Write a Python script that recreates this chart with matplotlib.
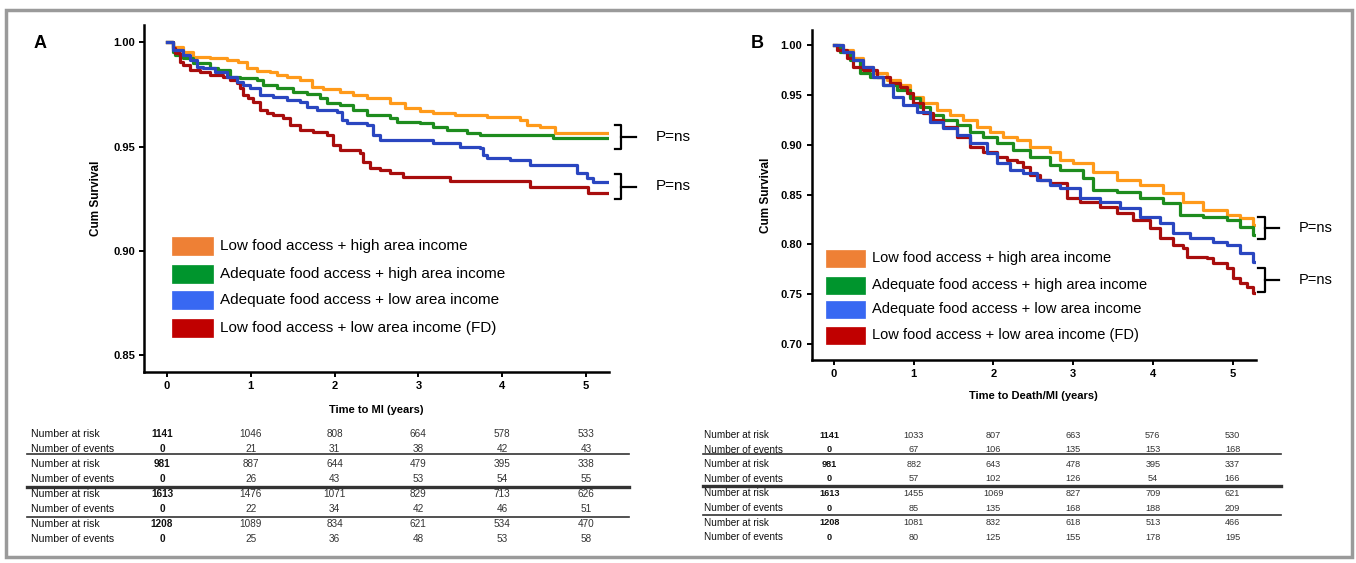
import matplotlib
matplotlib.use('Agg')
import matplotlib.pyplot as plt
from matplotlib.patches import Rectangle
from matplotlib.lines import Line2D

plt.rcParams['font.family'] = ['Liberation Sans', 'DejaVu Sans']

# ---------------- data ----------------
GROUP_LABELS = ['Low food access + high area income',
                'Adequate food access + high area income',
                'Adequate food access + low area income',
                'Low food access + low area income (FD)']
YEARS = [0, 1, 2, 3, 4, 5]

# Panel A - time to MI (KM steps: time, survival after step)
A_ORANGE_T = [0, .07, .19, .31, .51, .72, .85, .95, 1.07, 1.23, 1.31, 1.43, 1.59, 1.73, 1.86,
              2.06, 2.22, 2.39, 2.66, 2.84, 3.02, 3.17, 3.44, 3.82, 4.21, 4.30, 4.45, 4.63]
A_ORANGE_S = [1.0, .9979, .9955, .9931, .9925, .9915, .9907, .9877, .9862, .9859, .9843, .9835,
              .9819, .9787, .9776, .9763, .9747, .9734, .9708, .9683, .9672, .9662, .9651, .9640,
              .9627, .9603, .9592, .9566]
A_GREEN_T = [0, .07, .10, .19, .31, .51, .61, .75, .87, 1.07, 1.15, 1.31, 1.50, 1.67, 1.83, 1.91,
             2.06, 2.22, 2.39, 2.66, 2.74, 3.02, 3.17, 3.34, 3.58, 3.74, 4.61]
A_GREEN_S = [1.0, .9955, .9939, .9923, .9899, .9875, .9867, .9835, .9827, .9819, .9795, .9779,
             .9763, .9750, .9731, .9707, .9699, .9675, .9651, .9639, .9619, .9611, .9592, .9579,
             .9563, .9555, .9539]
A_BLUE_T = [0, .07, .19, .27, .36, .43, .57, .72, .84, .91, .99, 1.11, 1.26, 1.43, 1.59, 1.67,
            1.79, 2.03, 2.09, 2.15, 2.39, 2.46, 2.54, 3.17, 3.50, 3.74, 3.77, 3.82, 4.09, 4.33,
            4.89, 5.01, 5.08]
A_BLUE_S = [1.0, .9963, .9939, .9915, .9883, .9875, .9859, .9835, .9811, .9795, .9779, .9747,
            .9739, .9723, .9715, .9691, .9675, .9667, .9627, .9611, .9603, .9555, .9533, .9515,
            .9499, .9491, .9459, .9443, .9435, .9411, .9371, .9347, .9331]
A_RED_T = [0, .07, .10, .16, .19, .27, .39, .51, .67, .75, .84, .87, .91, .97, 1.03, 1.11, 1.19,
           1.26, 1.38, 1.47, 1.59, 1.74, 1.91, 1.98, 2.06, 2.30, 2.34, 2.42, 2.54, 2.66, 2.82,
           3.38, 4.33, 5.02]
A_RED_S = [1.0, .9971, .9949, .9907, .9891, .9867, .9859, .9843, .9835, .9819, .9803, .9779,
           .9747, .9731, .9715, .9675, .9659, .9651, .9635, .9603, .9579, .9571, .9555, .9507,
           .9483, .9467, .9427, .9395, .9387, .9371, .9352, .9336, .9304, .9275]
A_END = 5.29

# Panel B - time to death/MI
B_ORANGE_T = [0, .11, .24, .36, .49, .66, .83, .95, 1.12, 1.29, 1.46, 1.62, 1.79, 1.96, 2.12,
              2.30, 2.46, 2.71, 2.84, 3.00, 3.25, 3.55, 3.84, 4.13, 4.38, 4.63, 4.93, 5.09, 5.26]
B_ORANGE_S = [1.0, .9950, .9866, .9782, .9716, .9649, .9598, .9481, .9415, .9347, .9297, .9247,
              .9180, .9130, .9079, .9046, .8979, .8929, .8845, .8812, .8728, .8645, .8594, .8511,
              .8427, .8343, .8293, .8260, .8193]
B_GREEN_T = [0, .08, .20, .33, .45, .61, .79, .95, 1.08, 1.20, 1.37, 1.54, 1.71, 1.87, 2.05,
             2.25, 2.46, 2.71, 2.84, 3.12, 3.25, 3.55, 3.84, 4.13, 4.34, 4.63, 4.93, 5.09, 5.26]
B_GREEN_S = [1.0, .9933, .9849, .9716, .9682, .9598, .9548, .9465, .9381, .9297, .9247, .9197,
             .9130, .9079, .9013, .8946, .8879, .8795, .8745, .8662, .8544, .8527, .8461, .8411,
             .8293, .8276, .8243, .8176, .8092]
B_BLUE_T = [0, .11, .24, .36, .49, .61, .74, .87, 1.04, 1.20, 1.37, 1.54, 1.71, 1.92, 2.05,
            2.21, 2.37, 2.55, 2.71, 2.84, 3.09, 3.34, 3.59, 3.84, 4.09, 4.25, 4.47, 4.76, 4.93,
            5.09, 5.26]
B_BLUE_S = [1.0, .9933, .9849, .9782, .9682, .9598, .9481, .9398, .9330, .9230, .9164, .9096,
            .9013, .8913, .8812, .8745, .8712, .8645, .8594, .8561, .8461, .8427, .8360, .8276,
            .8210, .8109, .8059, .8025, .7992, .7909, .7824]
B_RED_T = [0, .04, .16, .24, .36, .54, .70, .83, .92, .99, 1.12, 1.24, 1.37, 1.54, 1.71, 1.87,
           2.05, 2.17, 2.30, 2.37, 2.46, 2.58, 2.71, 2.92, 3.09, 3.34, 3.55, 3.75, 3.96, 4.09,
           4.25, 4.38, 4.43, 4.68, 4.76, 4.93, 5.01, 5.09, 5.18, 5.26]
B_RED_S = [1.0, .9950, .9866, .9782, .9749, .9682, .9615, .9581, .9515, .9415, .9314, .9247,
           .9180, .9079, .8979, .8929, .8879, .8845, .8828, .8778, .8695, .8645, .8611, .8461,
           .8427, .8377, .8310, .8243, .8160, .8059, .7992, .7959, .7875, .7858, .7808, .7758,
           .7658, .7608, .7574, .7507]
B_END = 5.29

# number-at-risk tables (rows in legend order)
A_AT_RISK = [[1141, 1046, 808, 664, 578, 533],
             [981, 887, 644, 479, 395, 338],
             [1613, 1476, 1071, 829, 713, 626],
             [1208, 1089, 834, 621, 534, 470]]
A_EVENTS = [[0, 21, 31, 38, 42, 43],
            [0, 26, 43, 53, 54, 55],
            [0, 22, 34, 42, 46, 51],
            [0, 25, 36, 48, 53, 58]]
B_AT_RISK = [[1141, 1033, 807, 663, 576, 530],
             [981, 882, 643, 478, 395, 337],
             [1613, 1455, 1069, 827, 709, 621],
             [1208, 1081, 832, 618, 513, 466]]
B_EVENTS = [[0, 67, 106, 135, 153, 168],
            [0, 57, 102, 126, 54, 166],
            [0, 85, 135, 168, 188, 209],
            [0, 80, 125, 155, 178, 195]]

LINE_COLORS = ['#FF9A1A', '#1E8C1E', '#2A46C0', '#A80D0D']
PATCH_COLORS = ['#EE8035', '#00952D', '#3868F2', '#C00000']
DRAW_ORDER = [0, 1, 3, 2]

# ---------------- layout helpers (pixels of a 1356x563 picture) ----------------
W, H = 1356, 563
fig = plt.figure(figsize=(W / 100, H / 100), dpi=100)


def fx(x):
    return x / W


def fy(y):
    return 1 - y / H


def add_px_axes(left, top, right, bottom):
    return fig.add_axes([fx(left), fy(bottom), (right - left) / W, (bottom - top) / H])


def bracket(x0, x1, x2, ytop, ybot, text, size):
    ym = (ytop + ybot) / 2
    for xs, ys in [([x0, x1, x1, x0], [ytop, ytop, ybot, ybot]), ([x1, x2], [ym, ym])]:
        fig.lines.append(Line2D([fx(v) for v in xs], [fy(v) for v in ys], transform=fig.transFigure,
                                color='black', lw=1.6))
    fig.text(fx(x2 + 20), fy(ym), text, fontsize=size, va='center', ha='left')


def legend(x0, x1, xt, ycs, h, size):
    for yc, lab, col in zip(ycs, GROUP_LABELS, PATCH_COLORS):
        fig.patches.append(Rectangle((fx(x0), fy(yc + h / 2)), (x1 - x0) / W, h / H,
                                     transform=fig.transFigure, facecolor=col, edgecolor=col, lw=0.5))
        fig.text(fx(xt), fy(yc), lab, fontsize=size, va='center', ha='left')


def km_panel(ax, times, survs, end, xlim, ylim, yticks, xlabel):
    for i in DRAW_ORDER:
        t = times[i] + [end]
        s = survs[i] + [survs[i][-1]]
        ax.step(t, s, where='post', color=LINE_COLORS[i], lw=2.3)
    ax.set_xlim(*xlim)
    ax.set_ylim(*ylim)
    ax.set_xticks(YEARS)
    ax.set_yticks(yticks)
    ax.set_yticklabels(['%.2f' % v for v in yticks])
    for side in ['top', 'right']:
        ax.spines[side].set_visible(False)
    for side in ['left', 'bottom']:
        ax.spines[side].set_linewidth(1.8)
    ax.tick_params(direction='out', length=3.5, width=1.4, labelsize=8, pad=3)
    for lbl in ax.get_xticklabels() + ax.get_yticklabels():
        lbl.set_fontweight('bold')
    ax.set_xlabel(xlabel, fontsize=8, fontweight='bold')
    ax.set_ylabel('Cum Survival', fontsize=8.5, fontweight='bold')


def risk_table(tab, xlim, at_risk, events, label_x, line_x, label_size, val_size):
    tab.set_xlim(*xlim)
    tab.set_ylim(8.5, 0.5)
    tab.axis('off')
    for g in range(4):
        for r, (name, vals) in enumerate([('Number at risk', at_risk[g]),
                                          ('Number of events', events[g])]):
            row = 2 * g + 1 + r
            tab.text(label_x, row, name, fontsize=label_size, ha='left', va='center', color='#111111')
            for j, yr in enumerate(YEARS):
                xpos = yr - 0.06 if j == 0 else yr
                tab.text(xpos, row, str(vals[j]), fontsize=val_size, ha='center', va='center',
                         fontweight='bold' if j == 0 else 'normal',
                         color='#111111' if j == 0 else '#333333')
    for y, lw in zip([2.3, 4.5, 6.5], [1.2, 2.4, 1.2]):
        tab.plot(line_x, [y, y], color='#333333', lw=lw, clip_on=False)


# ---------------- panel A ----------------
A_X0, A_YR = 167, 83.8          # pixel of year 0, pixels per year
A_XLIM = ((144 - A_X0) / A_YR, (609 - A_X0) / A_YR)
axA = add_px_axes(144, 25, 609, 372)
km_panel(axA, [A_ORANGE_T, A_GREEN_T, A_BLUE_T, A_RED_T],
         [A_ORANGE_S, A_GREEN_S, A_BLUE_S, A_RED_S], A_END,
         A_XLIM, (0.8418, 1.0083), [0.85, 0.90, 0.95, 1.00], 'Time to MI (years)')
axA.xaxis.set_label_coords(0.5, -0.095)
axA.yaxis.set_label_coords(-0.09, 0.5)

tabA = add_px_axes(144, 426.5, 609, 546.8)
risk_table(tabA, A_XLIM, A_AT_RISK, A_EVENTS, (30.7 - A_X0) / A_YR,
           [(27 - A_X0) / A_YR, (629 - A_X0) / A_YR], 7.6, 7.2)

legend(172, 213, 220, [246, 274, 300, 328], 18, 11)
bracket(615, 621, 636, 125, 149, 'P=ns', 11)
bracket(615, 621, 636, 174, 199, 'P=ns', 11)
fig.text(fx(40), fy(43), 'A', fontsize=13, fontweight='bold', va='center', ha='center')

# ---------------- panel B ----------------
B_X0, B_YR = 834, 79.7
B_XLIM = ((811.5 - B_X0) / B_YR, (1255.5 - B_X0) / B_YR)
axB = add_px_axes(811.5, 30, 1255.5, 360)
km_panel(axB, [B_ORANGE_T, B_GREEN_T, B_BLUE_T, B_RED_T],
         [B_ORANGE_S, B_GREEN_S, B_BLUE_S, B_RED_S], B_END,
         B_XLIM, (0.6839, 1.0151), [0.70, 0.75, 0.80, 0.85, 0.90, 0.95, 1.00],
         'Time to Death/MI (years)')
axB.xaxis.set_label_coords(0.5, -0.095)
axB.yaxis.set_label_coords(-0.089, 0.5)

tabB = add_px_axes(811.5, 427.7, 1255.5, 544.6)
risk_table(tabB, B_XLIM, B_AT_RISK, B_EVENTS, (704 - B_X0) / B_YR,
           [(703 - B_X0) / B_YR, (1281 - B_X0) / B_YR], 7.2, 6.6)

legend(826, 865, 872, [258, 285, 309, 335], 17, 10.5)
bracket(1258, 1265, 1279, 217, 239, 'P=ns', 10.5)
bracket(1258, 1265, 1279, 268, 292, 'P=ns', 10.5)
fig.text(fx(757), fy(43), 'B', fontsize=13, fontweight='bold', va='center', ha='center')

# outer frame
fig.patches.append(Rectangle((fx(6), fy(557)), (1352 - 6) / W, (557 - 10) / H,
                             transform=fig.transFigure, fill=False, edgecolor='#9a9a9a', lw=2.5))

fig.savefig('out.png', dpi=100)
